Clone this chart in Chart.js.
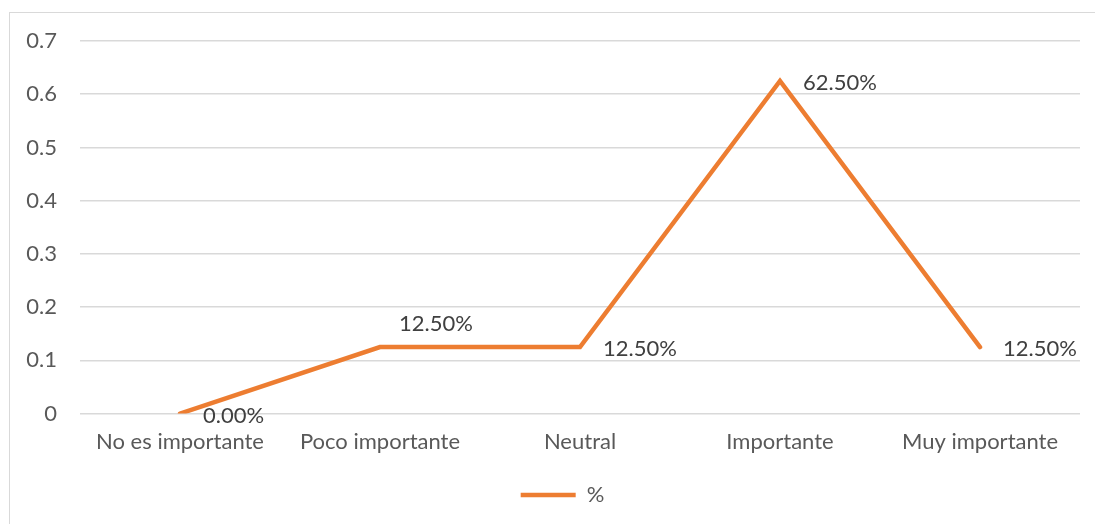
<!DOCTYPE html>
<html lang="es">
<head>
    <meta charset="UTF-8">
    <title>Importancia</title>
    <script src="https://cdn.jsdelivr.net/npm/chart.js"></script>
    <style>
        html, body {
            margin: 0;
            padding: 0;
            background: #ffffff;
            overflow: hidden;
        }
        .frame {
            position: absolute;
            left: 9px;
            top: 12px;
            width: 1200px;
            height: 600px;
            border: 1px solid #d9d9d9;
        }
        .chart-container {
            position: absolute;
            left: 0;
            top: 0;
            width: 1095px;
            height: 524px;
        }
    </style>
</head>
<body>
    <div class="frame"></div>
    <div class="chart-container">
        <canvas id="lineChart"></canvas>
    </div>

    <script>
        // Datos
        const categorias = ['No es importante', 'Poco importante', 'Neutral', 'Importante', 'Muy importante'];
        const porcentajes = [0, 0.125, 0.125, 0.625, 0.125];
        const etiquetas = ['0.00%', '12.50%', '12.50%', '62.50%', '12.50%'];
        const serie = '%';

        const fuente = "Lato, 'Liberation Sans', sans-serif";
        const tam = 22;

        // Etiquetas de datos (a la derecha, salvo "Poco importante" que va arriba)
        const posicionEtiqueta = ['right', 'above', 'right', 'right', 'right'];
        const etiquetasPlugin = {
            id: 'etiquetas',
            afterLayout(chart) {
                // leyenda centrada bajo el área del gráfico, no bajo todo el lienzo
                chart.legend.left += 45;
            },
            afterDatasetsDraw(chart) {
                const ctx = chart.ctx;
                const meta = chart.getDatasetMeta(0);
                ctx.save();
                ctx.font = tam + 'px ' + fuente;
                ctx.fillStyle = '#404040';
                ctx.textBaseline = 'middle';
                meta.data.forEach((pt, i) => {
                    if (posicionEtiqueta[i] === 'above') {
                        ctx.textAlign = 'center';
                        ctx.fillText(etiquetas[i], pt.x + 56, pt.y - 23);
                    } else {
                        ctx.textAlign = 'left';
                        ctx.fillText(etiquetas[i], pt.x + 23, pt.y + 2);
                    }
                });
                ctx.restore();
            }
        };

        const ctx = document.getElementById('lineChart').getContext('2d');
        const chart = new Chart(ctx, {
            type: 'line',
            data: {
                labels: categorias,
                datasets: [{
                    label: serie,
                    data: porcentajes,
                    borderColor: '#ED7D31',
                    backgroundColor: '#ED7D31',
                    borderWidth: 4.5,
                    borderCapStyle: 'round',
                    borderJoinStyle: 'miter',
                    pointRadius: 0,
                    pointHoverRadius: 0,
                    pointStyle: 'line',
                    tension: 0
                }]
            },
            options: {
                responsive: true,
                maintainAspectRatio: false,
                animation: false,
                layout: {
                    padding: { top: 41, right: 15, bottom: 8, left: 0 }
                },
                scales: {
                    x: {
                        offset: true,
                        afterFit(scale) { scale.height += 6; },
                        grid: { display: false },
                        border: { display: false },
                        ticks: {
                            color: '#595959',
                            font: { family: fuente, size: tam },
                            padding: 7,
                            maxRotation: 0
                        }
                    },
                    y: {
                        min: 0,
                        max: 0.7,
                        afterFit(scale) { scale.width = 80; },
                        grid: {
                            color: '#d9d9d9',
                            lineWidth: 1.5,
                            drawTicks: false
                        },
                        border: { display: false },
                        ticks: {
                            stepSize: 0.1,
                            color: '#595959',
                            font: { family: fuente, size: tam },
                            padding: 23
                        }
                    }
                },
                plugins: {
                    legend: {
                        position: 'bottom',
                        labels: {
                            usePointStyle: true,
                            pointStyleWidth: 55,
                            color: '#595959',
                            font: { family: fuente, size: tam },
                            padding: 16
                        }
                    },
                    tooltip: { enabled: false }
                }
            },
            plugins: [etiquetasPlugin]
        });
    </script>
</body>
</html>
